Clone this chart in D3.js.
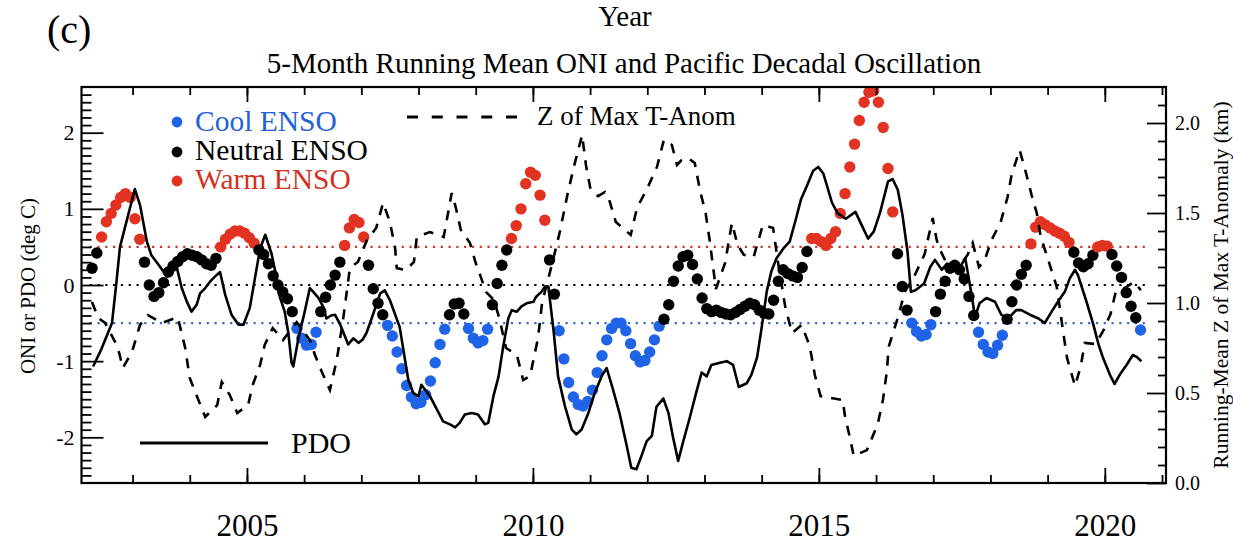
<!DOCTYPE html>
<html><head><meta charset="utf-8">
<script src="https://cdn.jsdelivr.net/npm/d3@7"></script>
<style>
body{margin:0;background:#fff}
svg{display:block}
text{font-family:"Liberation Serif","Times New Roman",Times,serif;fill:#000}
</style>
</head><body>
<svg id="chart" width="1233" height="543"></svg>
<script>
// ---------------- DATA ----------------
// Monthly 5-month running mean ONI, starting April 2002
const oniStartYear = 2002, oniStartMonth = 3; // 0 = Jan
const oniValues = [
  0.22,0.42,0.63,0.83,0.94,1.05,1.15,1.2,1.15,                 // 2002 Apr-Dec
  0.87,0.6,0.3,0.0,-0.15,-0.1,0.03,0.17,0.25,0.31,0.37,0.41,    // 2003
  0.39,0.37,0.33,0.28,0.26,0.35,0.5,0.6,0.67,0.71,0.71,0.68,    // 2004
  0.62,0.55,0.46,0.4,0.28,0.12,0.0,-0.09,-0.18,-0.35,-0.57,-0.7,// 2005
  -0.79,-0.78,-0.62,-0.35,-0.16,0.0,0.13,0.3,0.52,0.75,0.86,0.82,// 2006
  0.63,0.26,-0.05,-0.24,-0.39,-0.53,-0.67,-0.88,-1.1,-1.32,-1.47,-1.56, // 2007
  -1.54,-1.44,-1.26,-1.02,-0.78,-0.58,-0.39,-0.25,-0.24,-0.38,-0.57,-0.7, // 2008
  -0.76,-0.73,-0.58,-0.26,0.02,0.26,0.46,0.61,0.78,1.0,1.33,1.48, // 2009
  1.44,1.18,0.85,0.33,-0.12,-0.6,-0.97,-1.28,-1.47,-1.57,-1.59,-1.53, // 2010
  -1.38,-1.15,-0.93,-0.72,-0.57,-0.5,-0.5,-0.6,-0.77,-0.93,-1.01,-0.99, // 2011
  -0.88,-0.72,-0.54,-0.45,-0.26,0.05,0.25,0.37,0.39,0.27,0.08,-0.17, // 2012
  -0.31,-0.35,-0.33,-0.36,-0.38,-0.39,-0.36,-0.32,-0.28,-0.24,-0.26,-0.33, // 2013
  -0.37,-0.38,-0.2,0.05,0.2,0.15,0.12,0.1,0.23,0.44,0.61,0.61,  // 2014
  0.57,0.52,0.61,0.7,0.94,1.2,1.55,1.85,2.16,2.4,2.53,2.55,      // 2015
  2.4,2.07,1.53,0.96,0.41,-0.02,-0.33,-0.5,-0.61,-0.67,-0.65,-0.52, // 2016
  -0.35,-0.12,0.05,0.22,0.26,0.2,0.08,-0.15,-0.4,-0.62,-0.78,-0.88, // 2017
  -0.9,-0.79,-0.66,-0.45,-0.22,0.0,0.14,0.26,0.54,0.76,0.83,0.79,  // 2018
  0.75,0.71,0.68,0.64,0.56,0.43,0.29,0.24,0.28,0.39,0.5,0.52,      // 2019
  0.51,0.4,0.25,0.1,-0.1,-0.28,-0.43,-0.59                          // 2020 Jan-Aug
];
const warmThreshold = 0.5, coolThreshold = -0.5;

// PDO (solid line), vertices
const pdoTime = [2002.31,2002.45,2002.64,2002.72,2002.78,2003.04,2003.13,2003.25,2003.33,2003.48,2003.6,2003.68,2003.77,2003.86,2003.95,2004.03,2004.12,2004.18,2004.27,2004.35,2004.44,2004.53,2004.62,2004.73,2004.85,2004.94,2005.05,2005.14,2005.23,2005.32,2005.43,2005.52,2005.58,2005.66,2005.72,2005.78,2005.81,2005.9,2006.01,2006.1,2006.16,2006.25,2006.33,2006.39,2006.47,2006.54,2006.63,2006.68,2006.77,2006.86,2006.95,2007.02,2007.09,2007.18,2007.33,2007.41,2007.5,2007.67,2007.82,2007.91,2008.0,2008.05,2008.2,2008.43,2008.55,2008.64,2008.72,2008.81,2008.93,2009.04,2009.16,2009.22,2009.31,2009.4,2009.48,2009.57,2009.63,2009.72,2009.8,2009.89,2010.01,2010.06,2010.15,2010.21,2010.27,2010.36,2010.44,2010.56,2010.68,2010.76,2010.85,2010.97,2011.08,2011.2,2011.29,2011.4,2011.52,2011.64,2011.72,2011.81,2011.9,2011.99,2012.08,2012.16,2012.28,2012.37,2012.45,2012.54,2012.63,2012.74,2012.86,2012.95,2013.04,2013.12,2013.27,2013.39,2013.5,2013.6,2013.74,2013.82,2013.92,2014.0,2014.09,2014.17,2014.26,2014.38,2014.49,2014.6,2014.69,2014.79,2014.9,2014.99,2015.08,2015.23,2015.33,2015.47,2015.64,2015.74,2015.86,2015.96,2016.07,2016.21,2016.29,2016.38,2016.46,2016.55,2016.61,2016.69,2016.84,2016.95,2017.03,2017.15,2017.24,2017.36,2017.47,2017.56,2017.62,2017.68,2017.73,2017.81,2017.93,2018.08,2018.19,2018.31,2018.45,2018.54,2018.69,2018.84,2018.95,2019.07,2019.18,2019.3,2019.39,2019.48,2019.53,2019.68,2019.8,2019.89,2019.97,2020.09,2020.17,2020.26,2020.38,2020.49,2020.55,2020.64];
const pdoValue = [-1.07,-0.85,-0.5,0.05,0.5,1.26,1.05,0.57,0.39,0.24,0.11,0.17,0.24,-0.04,-0.22,-0.35,-0.26,-0.11,-0.04,0.04,0.11,0.17,-0.13,-0.39,-0.52,-0.52,-0.3,0.09,0.48,0.66,0.41,0.09,-0.17,-0.35,-0.61,-1.02,-1.07,-0.7,-0.35,-0.04,-0.09,-0.17,-0.28,-0.44,-0.4,-0.39,-0.52,-0.61,-0.78,-0.7,-0.76,-0.72,-0.63,-0.44,-0.11,-0.07,-0.2,-0.55,-1.24,-1.42,-1.46,-1.31,-1.46,-1.79,-1.83,-1.87,-1.81,-1.7,-1.68,-1.7,-1.83,-1.81,-1.46,-1.2,-0.81,-0.44,-0.33,-0.35,-0.28,-0.24,-0.22,-0.15,-0.09,-0.02,-0.02,-0.59,-1.2,-1.59,-1.9,-1.96,-1.9,-1.68,-1.42,-1.2,-1.09,-1.37,-1.7,-2.11,-2.4,-2.42,-2.24,-2.05,-1.98,-1.6,-1.49,-1.68,-2.0,-2.31,-2.05,-1.75,-1.4,-1.15,-1.2,-1.05,-1.02,-1.0,-1.05,-1.34,-1.29,-1.18,-0.95,-0.56,-0.08,0.18,0.35,0.48,0.57,0.87,1.13,1.3,1.5,1.55,1.46,1.08,0.94,0.87,0.96,0.8,0.61,0.7,0.95,1.36,1.39,1.25,0.93,0.44,-0.09,-0.07,0.02,0.24,0.33,0.2,0.28,0.22,0.24,0.35,0.09,-0.17,-0.42,-0.24,-0.17,-0.22,-0.39,-0.44,-0.33,-0.33,-0.39,-0.44,-0.5,-0.35,-0.22,-0.09,0.09,0.2,0.13,-0.22,-0.52,-0.78,-0.96,-1.18,-1.3,-1.18,-1.05,-0.92,-0.94,-1.0];

// Running-mean Z of max T-anomaly (dashed line, km, right axis)
const zTime = [2002.29,2002.40,2002.52,2002.74,2002.83,2002.99,2003.13,2003.27,2003.51,2003.79,2003.92,2004.00,2004.13,2004.27,2004.48,2004.56,2004.70,2004.83,2005.02,2005.10,2005.23,2005.31,2005.45,2005.63,2005.87,2006.10,2006.19,2006.31,2006.45,2006.57,2006.68,2006.80,2006.94,2007.10,2007.26,2007.38,2007.50,2007.59,2007.62,2007.78,2007.92,2007.97,2008.20,2008.44,2008.58,2008.65,2008.74,2008.90,2009.00,2009.09,2009.18,2009.32,2009.42,2009.53,2009.72,2009.83,2009.95,2010.09,2010.16,2010.24,2010.33,2010.47,2010.61,2010.72,2010.86,2010.93,2011.01,2011.14,2011.26,2011.33,2011.45,2011.57,2011.71,2011.82,2012.01,2012.17,2012.29,2012.43,2012.52,2012.60,2012.71,2012.83,2012.92,2013.02,2013.09,2013.20,2013.36,2013.48,2013.58,2013.69,2013.86,2014.02,2014.20,2014.28,2014.41,2014.53,2014.70,2014.84,2014.93,2015.03,2015.42,2015.45,2015.54,2015.61,2015.84,2016.03,2016.12,2016.19,2016.22,2016.38,2016.50,2016.68,2016.85,2016.99,2017.06,2017.13,2017.29,2017.47,2017.60,2017.69,2017.80,2017.90,2018.02,2018.18,2018.30,2018.37,2018.51,2018.60,2018.72,2018.81,2018.88,2019.00,2019.16,2019.27,2019.34,2019.48,2019.58,2019.65,2019.84,2019.98,2020.10,2020.19,2020.35,2020.51,2020.63];
const zValue = [1.006,0.917,0.889,0.756,0.639,0.728,0.878,0.933,0.889,0.922,0.75,0.583,0.478,0.367,0.433,0.561,0.489,0.389,0.433,0.544,0.656,0.767,0.861,0.794,0.894,0.794,0.711,0.617,0.517,0.683,0.906,1.194,1.228,1.35,1.417,1.556,1.45,1.306,1.194,1.183,1.228,1.367,1.394,1.367,1.611,1.533,1.406,1.333,1.222,1.144,1.061,1.017,0.906,0.75,0.711,0.572,0.594,0.806,1.0,1.1,1.211,1.394,1.611,1.761,1.933,1.761,1.628,1.594,1.617,1.578,1.45,1.417,1.378,1.528,1.644,1.756,1.906,1.878,1.767,1.794,1.806,1.778,1.628,1.5,1.35,1.078,1.222,1.444,1.322,1.267,1.256,1.433,1.417,1.239,0.983,0.833,0.878,0.761,0.6,0.483,0.461,0.383,0.256,0.15,0.183,0.328,0.461,0.622,0.756,0.917,1.061,1.156,1.272,1.472,1.35,1.289,1.183,1.211,1.267,1.333,1.2,1.239,1.35,1.45,1.589,1.711,1.85,1.75,1.6,1.5,1.367,1.25,1.089,0.844,0.694,0.539,0.65,0.778,0.772,0.85,0.939,1.061,1.083,1.117,1.072];

// Axis tick values / labels
const xMajorYears = [2005, 2010, 2015, 2020];
const xMinorYears = d3.range(2003, 2022);
const leftMajor = [-2, -1, 0, 1, 2];
const rightMajor = [0.0, 0.5, 1.0, 1.5, 2.0];
const refLevels = [0.5, 0, -0.5];
const refColors = ["#c8362b", "#000000", "#3567c4"];
const titleText = "5-Month Running Mean ONI and Pacific Decadal Oscillation";
const legendEnso = ["Cool ENSO", "Neutral ENSO", "Warm ENSO"];
const ensoColors = {cool: "#1f63e6", neutral: "#000000", warm: "#e23322"};
const ensoTextColors = ["#2262d6", "#000000", "#d3321f"];

// ---------------- CHART ----------------
const svg = d3.select("#chart");
const L = 81.5, R = 1166, T = 87, B = 483;
const x = d3.scaleLinear().domain([2002.107, 2021.07]).range([L, R]);
const yL = d3.scaleLinear().domain([-2.6, 2.6]).range([B, T]);
const yR = d3.scaleLinear().domain([0, 2.2]).range([B, T]);
const hyphenInt = d => String(d).replace("\u2212", "-");

svg.append("defs").append("clipPath").attr("id", "plotclip")
  .append("rect").attr("x", L).attr("y", T).attr("width", R - L).attr("height", B - T);

// Reference dotted lines
const plot = svg.append("g").attr("clip-path", "url(#plotclip)");
refLevels.forEach((lv, i) => {
  plot.append("line")
    .attr("x1", x(2002.25)).attr("x2", x(2020.7))
    .attr("y1", yL(lv)).attr("y2", yL(lv))
    .attr("stroke", refColors[i]).attr("stroke-width", 2.2)
    .attr("stroke-dasharray", "2.2,5.6");
});

// ONI dots
const oni = oniValues.map((v, i) => ({
  t: oniStartYear + (oniStartMonth + i + 0.5) / 12,
  v: v,
  c: v >= warmThreshold ? ensoColors.warm : (v <= coolThreshold ? ensoColors.cool : ensoColors.neutral)
}));
plot.append("g").selectAll("circle").data(oni).join("circle")
  .attr("cx", d => x(d.t)).attr("cy", d => yL(d.v)).attr("r", 5.7)
  .attr("fill", d => d.c);

// PDO line
const pdo = pdoTime.map((t, i) => [t, pdoValue[i]]);
plot.append("path").datum(pdo)
  .attr("d", d3.line().x(d => x(d[0])).y(d => yL(d[1])))
  .attr("fill", "none").attr("stroke", "#000").attr("stroke-width", 2.6)
  .attr("stroke-linejoin", "round");

// Z line (dashed)
const zz = zTime.map((t, i) => [t, zValue[i]]);
plot.append("path").datum(zz)
  .attr("d", d3.line().x(d => x(d[0])).y(d => yR(d[1])))
  .attr("fill", "none").attr("stroke", "#000").attr("stroke-width", 2.6)
  .attr("stroke-dasharray", "10,9");

// Axes
function styleAxis(g) {
  g.select(".domain").remove();
  g.selectAll(".tick line").attr("stroke", "#000").attr("stroke-width", 1.8);
}
// bottom
svg.append("g").attr("transform", `translate(0,${B})`)
  .call(d3.axisBottom(x).tickValues(xMinorYears).tickSize(-8).tickFormat(""))
  .call(styleAxis);
svg.append("g").attr("transform", `translate(0,${B})`)
  .call(d3.axisBottom(x).tickValues(xMajorYears).tickSize(-15).tickPadding(31).tickFormat(d3.format("d")))
  .call(styleAxis)
  .call(g => g.selectAll("text").attr("font-size", 31).attr("fill", "#000"));
// top
svg.append("g").attr("transform", `translate(0,${T})`)
  .call(d3.axisTop(x).tickValues(xMinorYears).tickSize(-8).tickFormat(""))
  .call(styleAxis);
svg.append("g").attr("transform", `translate(0,${T})`)
  .call(d3.axisTop(x).tickValues(xMajorYears).tickSize(-15).tickFormat(""))
  .call(styleAxis);
// left
const leftMinor = d3.range(-25, 26).filter(k => k % 10 !== 0).map(k => k / 10);
svg.append("g").attr("transform", `translate(${L},0)`)
  .call(d3.axisLeft(yL).tickValues(leftMinor).tickSize(-10).tickFormat(""))
  .call(styleAxis);
svg.append("g").attr("transform", `translate(${L},0)`)
  .call(d3.axisLeft(yL).tickValues(leftMajor).tickSize(-22).tickPadding(7).tickFormat(hyphenInt))
  .call(styleAxis)
  .call(g => g.selectAll("text").attr("font-size", 22).attr("fill", "#000"));
// right
const rightMinor = d3.range(1, 22).filter(k => k % 5 !== 0).map(k => k / 10);
svg.append("g").attr("transform", `translate(${R},0)`)
  .call(d3.axisRight(yR).tickValues(rightMinor).tickSize(-8).tickFormat(""))
  .call(styleAxis);
svg.append("g").attr("transform", `translate(${R},0)`)
  .call(d3.axisRight(yR).tickValues(rightMajor).tickSize(-19).tickPadding(9).tickFormat(d => d.toFixed(1)))
  .call(styleAxis)
  .call(g => g.selectAll("text").attr("font-size", 20).attr("fill", "#000"));

// Frame
svg.append("rect").attr("x", L).attr("y", T).attr("width", R - L).attr("height", B - T)
  .attr("fill", "none").attr("stroke", "#000").attr("stroke-width", 2.2);

// Texts
svg.append("text").attr("x", 625).attr("y", 26).attr("text-anchor", "middle")
  .attr("font-size", 29).text("Year");
svg.append("text").attr("x", 47).attr("y", 43).attr("font-size", 40).text("(c)");
svg.append("text").attr("x", 624).attr("y", 73).attr("text-anchor", "middle")
  .attr("font-size", 29).text(titleText);
svg.append("text").attr("transform", `translate(35,286) rotate(-90)`)
  .attr("text-anchor", "middle").attr("font-size", 21).text("ONI or PDO (deg C)");
svg.append("text").attr("transform", `translate(1228,285) rotate(-90)`)
  .attr("text-anchor", "middle").attr("font-size", 21.5).text("Running-Mean Z of Max T-Anomaly (km)");

// Legend: ENSO
const legY = [122, 152, 181];
const legBase = [131, 160, 189];
const legDotColors = [ensoColors.cool, ensoColors.neutral, ensoColors.warm];
legendEnso.forEach((s, i) => {
  svg.append("circle").attr("cx", 177).attr("cy", legY[i]).attr("r", 5.4).attr("fill", legDotColors[i]);
  svg.append("text").attr("x", 195).attr("y", legBase[i]).attr("font-size", 29.5)
    .style("fill", ensoTextColors[i]).text(s);
});
// Legend: Z
svg.append("line").attr("x1", 407).attr("x2", 518).attr("y1", 117).attr("y2", 117)
  .attr("stroke", "#000").attr("stroke-width", 2.8).attr("stroke-dasharray", "11,13.75");
svg.append("text").attr("x", 537).attr("y", 125).attr("font-size", 27).text("Z of Max T-Anom");
// Legend: PDO
svg.append("line").attr("x1", 140).attr("x2", 268).attr("y1", 443).attr("y2", 443)
  .attr("stroke", "#000").attr("stroke-width", 3);
svg.append("text").attr("x", 291).attr("y", 453).attr("font-size", 30).text("PDO");
</script>
</body></html>
